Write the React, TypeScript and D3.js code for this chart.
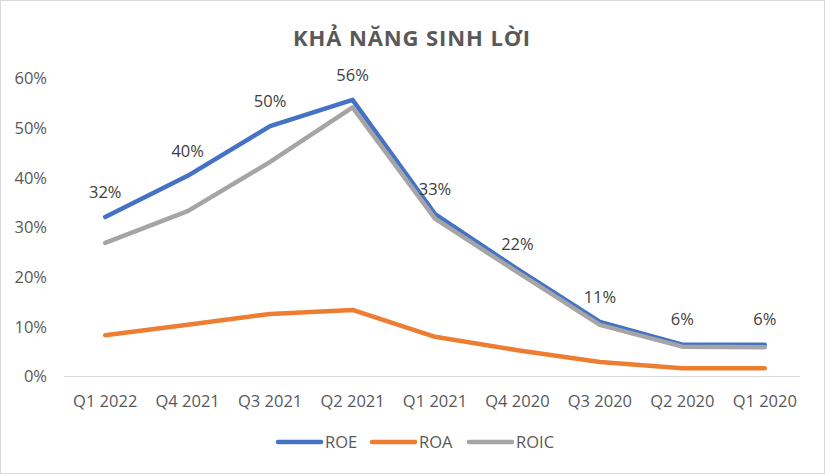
import React from "react";
import * as d3 from "d3";

const categories = ["Q1 2022", "Q4 2021", "Q3 2021", "Q2 2021", "Q1 2021", "Q4 2020", "Q3 2020", "Q2 2020", "Q1 2020"];
const roe = [0.321, 0.404, 0.504, 0.557, 0.327, 0.216, 0.11, 0.064, 0.064];
const roa = [0.083, 0.104, 0.126, 0.134, 0.08, 0.053, 0.029, 0.0165, 0.0165];
const roic = [0.269, 0.333, 0.432, 0.542, 0.318, 0.21, 0.104, 0.06, 0.059];
const yTicks = [0, 0.1, 0.2, 0.3, 0.4, 0.5, 0.6];
const seriesNames = ["ROE", "ROA", "ROIC"];
const seriesColors = ["#4472C4", "#ED7D31", "#A5A5A5"];

const W = 825;
const H = 474;
const FONT = "'Open Sans', 'Noto Sans', sans-serif";
const FS = 16.5;

export default function App() {
  const x = d3.scaleBand<string>().domain(categories).range([64, 806]);
  const y = d3.scaleLinear().domain([0, 0.6]).range([376.5, 78.5]);
  const cx = (c: string) => (x(c) as number) + x.bandwidth() / 2;
  const line = d3
    .line<number>()
    .x((_, i) => cx(categories[i]))
    .y((d) => y(d));
  const series = [roe, roa, roic];
  const fmt = d3.format(".0%");
  const legendX = [278, 372, 469];

  return (
    <div style={{ position: "absolute", left: 0, top: 0 }}>
      <svg width={W} height={H} style={{ display: "block", background: "#fff" }}>
        <rect x={0.5} y={0.5} width={W - 1} height={H - 1} fill="#fff" stroke="#D9D9D9" />
        <text x={412} y={46} textAnchor="middle" fontFamily={FONT} fontWeight="bold" fontSize={22} letterSpacing={0.9} fill="#595959">
          KHẢ NĂNG SINH LỜI
        </text>
        {yTicks.map((t) => (
          <text key={t} x={47} y={y(t)} dy="0.35em" textAnchor="end" fontFamily={FONT} fontSize={FS} fill="#595959">
            {fmt(t)}
          </text>
        ))}
        <line x1={64} x2={800} y1={y(0)} y2={y(0)} stroke="#D9D9D9" strokeWidth={1.2} />
        {categories.map((c) => (
          <text key={c} x={cx(c)} y={401} dy="0.35em" textAnchor="middle" fontFamily={FONT} fontSize={FS} fill="#595959">
            {c}
          </text>
        ))}
        {series.map((s, i) => (
          <path
            key={seriesNames[i]}
            d={line(s) as string}
            fill="none"
            stroke={seriesColors[i]}
            strokeWidth={4.5}
            strokeLinecap="round"
            strokeLinejoin="round"
          />
        ))}
        {roe.map((v, i) => (
          <text key={i} x={cx(categories[i])} y={y(v) - 25} dy="0.35em" textAnchor="middle" fontFamily={FONT} fontSize={FS} fill="#404040">
            {fmt(v)}
          </text>
        ))}
        {seriesNames.map((n, i) => (
          <g key={n}>
            <line x1={legendX[i]} x2={legendX[i] + 43} y1={442} y2={442} stroke={seriesColors[i]} strokeWidth={4.5} strokeLinecap="round" />
            <text x={legendX[i] + 47} y={442} dy="0.35em" fontFamily={FONT} fontSize={FS} fill="#595959">
              {n}
            </text>
          </g>
        ))}
      </svg>
    </div>
  );
}
